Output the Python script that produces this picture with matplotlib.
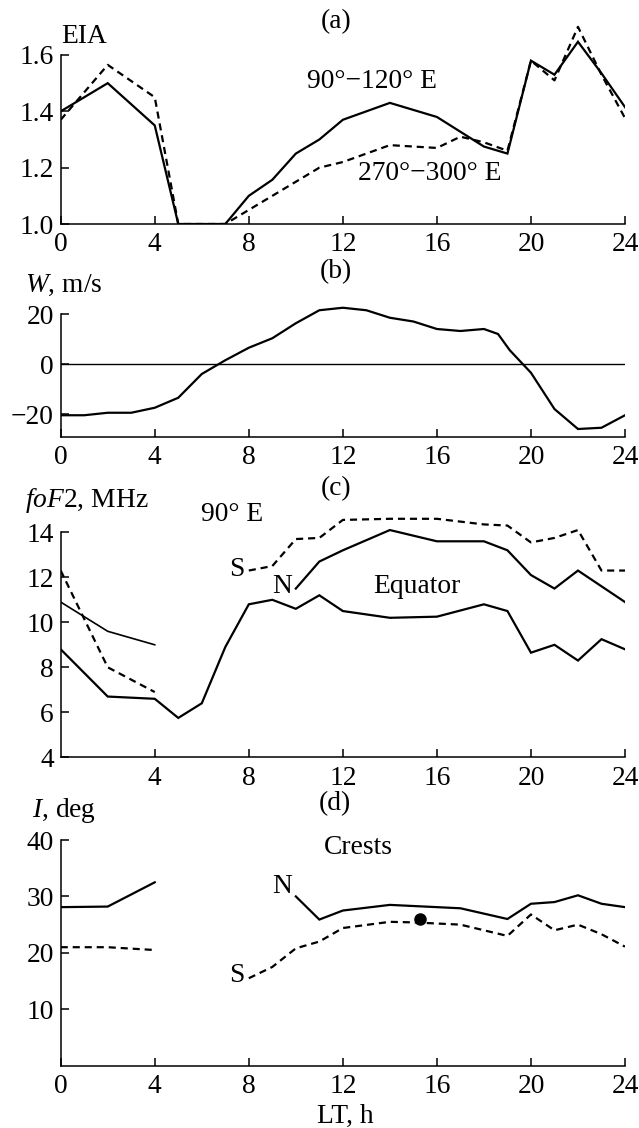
import matplotlib
matplotlib.use("Agg")
import matplotlib.pyplot as plt

plt.rcParams['font.family'] = ['Liberation Serif', 'DejaVu Serif']
plt.rcParams['mathtext.fontset'] = 'custom'
plt.rcParams['mathtext.rm'] = 'Liberation Serif'
plt.rcParams['mathtext.it'] = 'Liberation Serif:italic'
plt.rcParams['font.size'] = 19.8

# (a) EIA
eia_hours_90 = [0, 2, 4, 5, 6, 7, 8, 9, 10, 11, 12, 14, 16, 18, 19, 20, 21, 22, 23, 24]
eia_90 = [1.40, 1.50, 1.35, 1.0, 1.0, 1.0, 1.10, 1.157, 1.25, 1.30, 1.37, 1.43, 1.38,
          1.275, 1.25, 1.58, 1.53, 1.647, 1.535, 1.415]
eia_hours_270 = [0, 2, 4, 5, 6, 7, 8, 9, 10, 11, 12, 13, 14, 15, 16, 17, 18, 19, 20, 21, 22, 23, 24]
eia_270 = [1.37, 1.565, 1.45, 1.0, 1.0, 1.0, 1.05, 1.10, 1.15, 1.20, 1.22, 1.25, 1.28, 1.275,
           1.27, 1.31, 1.29, 1.26, 1.58, 1.51, 1.70, 1.53, 1.376]

# (b) W, m/s
w_hours = [0, 1, 2, 3, 4, 5, 6, 7, 8, 9, 10, 11, 12, 13, 14, 15, 16, 17, 18, 18.6, 19.1, 20,
           21, 22, 23, 24]
w_vals = [-20.5, -20.5, -19.5, -19.5, -17.5, -13.5, -4, 1.5, 6.5, 10.3, 16.3, 21.5, 22.5,
          21.5, 18.5, 17, 14, 13.2, 14, 12, 5.5, -3.5, -18, -26, -25.5, -20.5]

# (c) foF2, MHz
fo_hours_early = [0, 2, 4]
fo_n_early = [10.9, 9.6, 9.0]
fo_s_early = [12.3, 8.0, 6.9]
fo_eq_hours = [0, 2, 4, 5, 6, 7, 8, 9, 10, 11, 12, 14, 16, 18, 19, 20, 21, 22, 23, 24]
fo_eq = [8.8, 6.7, 6.6, 5.75, 6.4, 8.9, 10.8, 11.0, 10.6, 11.2, 10.5, 10.2, 10.25, 10.8,
         10.5, 8.65, 9.0, 8.3, 9.25, 8.8]
fo_n_hours = [10, 11, 12, 14, 16, 18, 19, 20, 21, 22, 23, 24]
fo_n = [11.5, 12.7, 13.2, 14.1, 13.6, 13.6, 13.2, 12.1, 11.5, 12.3, 11.6, 10.9]
fo_s_hours = [8, 9, 10, 11, 12, 14, 16, 18, 19, 20, 21, 22, 23, 24]
fo_s = [12.3, 12.5, 13.7, 13.75, 14.55, 14.6, 14.6, 14.35, 14.3, 13.55, 13.75, 14.1, 12.3, 12.3]

# (d) I, deg (crests)
inc_hours_early = [0, 2, 4]
inc_n_early = [28.1, 28.2, 32.5]
inc_s_early = [21.0, 21.0, 20.5]
inc_n_hours = [10, 11, 12, 14, 17, 19, 20, 21, 22, 23, 24]
inc_n = [30.0, 25.9, 27.5, 28.5, 27.9, 26.0, 28.7, 29.0, 30.2, 28.7, 28.1]
inc_s_hours = [8, 9, 10, 11, 12, 14, 15, 17, 19, 20, 21, 22, 23, 24]
inc_s = [15.5, 17.5, 20.8, 22.0, 24.4, 25.5, 25.4, 25.0, 23.0, 26.8, 24.0, 25.0, 23.3, 21.1]
dot_hour = [15.3]
dot_inc = [26.0]

W_PX, H_PX = 639, 1128
fig = plt.figure(figsize=(W_PX / 100, H_PX / 100), dpi=100)
X0, X24 = 60.7, 625.0


def make_axes(px_a, va, px_b, vb, ylim):
    # place the axes so that value va sits at pixel row px_a and vb at px_b
    ppu = (px_a - px_b) / (vb - va)
    bot = px_a + (va - ylim[0]) * ppu
    top = px_a - (ylim[1] - va) * ppu
    ax = fig.add_axes([X0 / W_PX, 1 - bot / H_PX, (X24 - X0) / W_PX, (bot - top) / H_PX])
    ax.set_xlim(0, 24)
    ax.set_ylim(*ylim)
    ax.spines['top'].set_visible(False)
    ax.spines['right'].set_visible(False)
    ax.spines['bottom'].set_bounds(0, 24)
    for s in ('left', 'bottom'):
        ax.spines[s].set_linewidth(1.1)
    ax.tick_params(direction='in', length=6, width=1.1, pad=5)
    ax.tick_params(axis='x', pad=6)
    ax.patch.set_visible(False)
    return ax


solid = dict(color='black', lw=1.6, solid_joinstyle='miter')
dashed = dict(color='black', lw=1.6, linestyle=(0, (3.2, 2.2)))

# panel (a)
ax = make_axes(224, 1.0, 55, 1.6, (1.0, 1.72))
ax.spines['left'].set_bounds(1.0, 1.6)
ax.set_yticks([1.0, 1.2, 1.4, 1.6])
ax.set_yticklabels(['1.0', '1.2', '1.4', '1.6'])
ax.set_xticks(range(0, 25, 4))
ax.plot(eia_hours_270, eia_270, **dashed)
ax.plot(eia_hours_90, eia_90, **solid)
ax.text(11.7, 1.718, '(a)', ha='center', va='center')
ax.text(0.0, 1.667, 'EIA', ha='left', va='center')
ax.text(13.25, 1.505, '90°\u2212120° E', ha='center', va='center')
ax.text(15.7, 1.18, '270°\u2212300° E', ha='center', va='center')

# panel (b)
ax = make_axes(364, 0, 314, 20, (-29, 25))
ax.spines['left'].set_bounds(-29, 20)
ax.set_yticks([-20, 0, 20])
ax.set_xticks(range(0, 25, 4))
ax.axhline(0, color='black', lw=1.0)
ax.plot(w_hours, w_vals, **solid)
ax.text(11.7, 36.9, '(b)', ha='center', va='center', clip_on=False)
ax.text(-1.5, 31.6, r'$W$, m/s', ha='left', va='center', clip_on=False)

# panel (c)
ax = make_axes(757.3, 4, 532.3, 14, (4, 15))
ax.spines['left'].set_bounds(4, 14)
ax.set_yticks([4, 6, 8, 10, 12, 14])
ax.set_xticks(range(4, 25, 4))
ax.plot(fo_hours_early, fo_n_early, color='black', lw=1.2)
ax.plot(fo_hours_early, fo_s_early, **dashed)
ax.plot(fo_eq_hours, fo_eq, **solid)
ax.plot(fo_n_hours, fo_n, **solid)
ax.plot(fo_s_hours, fo_s, **dashed)
ax.text(11.7, 15.96, '(c)', ha='center', va='center', clip_on=False)
ax.text(-1.5, 15.43, r'$foF2$, MHz', ha='left', va='center', clip_on=False)
ax.text(7.27, 14.77, '90° E', ha='center', va='center')
ax.text(7.48, 12.33, 'S', ha='center', va='center')
ax.text(9.41, 11.6, 'N', ha='center', va='center')
ax.text(15.15, 11.6, 'Equator', ha='center', va='center')

# panel (d)
ax = make_axes(1065.7, 0, 840, 40, (0, 41))
ax.spines['left'].set_bounds(0, 40)
ax.set_yticks([10, 20, 30, 40])
ax.set_xticks(range(0, 25, 4))
ax.plot(inc_hours_early, inc_n_early, **solid)
ax.plot(inc_hours_early, inc_s_early, **dashed)
ax.plot(inc_n_hours, inc_n, **solid)
ax.plot(inc_s_hours, inc_s, **dashed)
ax.plot(dot_hour, dot_inc, 'o', color='black', ms=8)
ax.text(11.66, 46.4, '(d)', ha='center', va='center', clip_on=False)
ax.text(-1.22, 45.3, r'$I$, deg', ha='left', va='center', clip_on=False)
ax.text(12.67, 38.7, 'Crests', ha='center', va='center')
ax.text(9.41, 31.7, 'N', ha='center', va='center')
ax.text(7.48, 15.9, 'S', ha='center', va='center')
ax.text(12.1, -9.0, 'LT, h', ha='center', va='center', clip_on=False)

fig.savefig('out.png', dpi=100)
